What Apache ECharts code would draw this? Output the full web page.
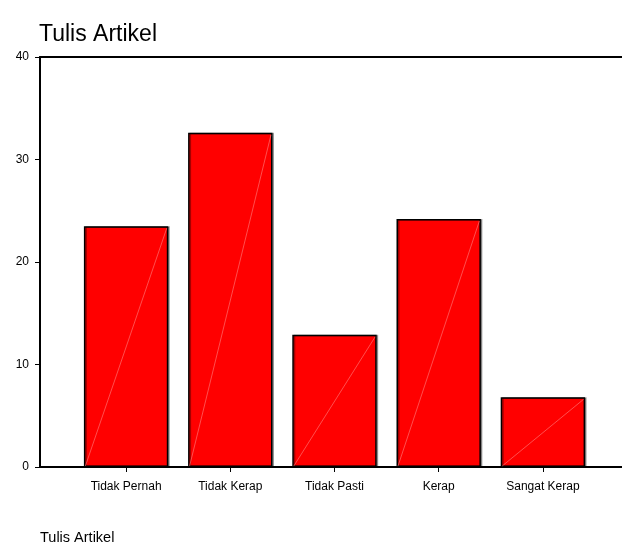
<!DOCTYPE html>
<html lang="en">
<head>
    <meta charset="UTF-8">
    <title>Tulis Artikel</title>
    <script src="https://cdn.jsdelivr.net/npm/echarts@6/dist/echarts.min.js"></script>
    <style>
        html, body { margin: 0; padding: 0; background: #fff; }
        #chart { width: 622px; height: 542px; }
    </style>
</head>
<body>
<div id="chart"></div>
<script>
    // data (percent)
    const categories = ['Tidak Pernah', 'Tidak Kerap', 'Tidak Pasti', 'Kerap', 'Sangat Kerap'];
    const percents = [23.5, 32.6, 12.9, 24.2, 6.8];
    const yTicks = [0, 10, 20, 30, 40];

    const font = 'Liberation Sans, Arial, sans-serif';
    const barRatio = 0.81;

    const chart = echarts.init(document.getElementById('chart'), null, { renderer: 'canvas' });

    const option = {
        animation: false,
        backgroundColor: '#fff',
        title: [
            {
                text: 'Tulis Artikel',
                left: 34, top: 18,
                textStyle: { fontFamily: font, fontSize: 23, fontWeight: 'normal', color: '#000' }
            },
            {
                text: 'Tulis Artikel',
                left: 35, top: 530,
                padding: [0, 5, 0, 5],
                textStyle: { fontFamily: font, fontSize: 14.5, fontWeight: 'normal', color: '#000' }
            }
        ],
        grid: [
            // bars live here
            { left: 74, right: 27, top: 57, bottom: 75 },
            // frame: left axis, top line and full-width base line
            { left: 40, right: 0, top: 57, bottom: 75 }
        ],
        xAxis: [
            {
                type: 'category', gridIndex: 0,
                data: categories,
                axisLine: { show: false },
                axisTick: { show: true, alignWithLabel: true, length: 5, lineStyle: { color: '#000', width: 1 } },
                axisLabel: { color: '#000', fontFamily: font, fontSize: 12, margin: 14 }
            },
            {
                type: 'value', gridIndex: 1, position: 'bottom',
                axisLine: { show: true, onZero: false, lineStyle: { color: '#000', width: 2 } },
                axisTick: { show: false }, axisLabel: { show: false }, splitLine: { show: false }
            },
            {
                type: 'value', gridIndex: 1, position: 'top',
                axisLine: { show: true, onZero: false, lineStyle: { color: '#000', width: 2 } },
                axisTick: { show: false }, axisLabel: { show: false }, splitLine: { show: false }
            }
        ],
        yAxis: [
            {
                type: 'value', gridIndex: 0, min: 0, max: 40, interval: 10,
                show: false
            },
            {
                type: 'value', gridIndex: 1, min: yTicks[0], max: yTicks[yTicks.length - 1], interval: 10,
                axisLine: { show: true, lineStyle: { color: '#000', width: 2 } },
                axisTick: { show: true, inside: false, length: 5, lineStyle: { color: '#000', width: 1 } },
                axisLabel: { color: '#000', fontFamily: font, fontSize: 12, margin: 11 },
                splitLine: { show: false }
            }
        ],
        series: [
            {
                type: 'bar',
                xAxisIndex: 0, yAxisIndex: 0,
                data: percents,
                barWidth: (barRatio * 100) + '%',
                itemStyle: {
                    color: '#ff0000',
                    borderColor: '#000',
                    borderWidth: 1.5,
                    shadowColor: 'rgba(0,0,0,0.35)',
                    shadowOffsetX: 1.5,
                    shadowBlur: 0
                }
            },
            {
                // faint diagonal seen inside each bar
                type: 'custom',
                xAxisIndex: 0, yAxisIndex: 0,
                data: percents.map((v, i) => [i, v]),
                z: 3,
                silent: true,
                renderItem: function (params, api) {
                    const top = api.coord([api.value(0), api.value(1)]);
                    const base = api.coord([api.value(0), 0]);
                    const half = api.size([1, 0])[0] * barRatio / 2 - 1.5;
                    return {
                        type: 'line',
                        shape: { x1: top[0] - half, y1: base[1] - 1, x2: top[0] + half, y2: top[1] + 2 },
                        style: { stroke: 'rgba(255,140,140,0.7)', lineWidth: 0.8 }
                    };
                }
            }
        ]
    };

    chart.setOption(option);
    window.addEventListener('resize', () => {
        chart.resize();
    });
</script>
</body>
</html>
